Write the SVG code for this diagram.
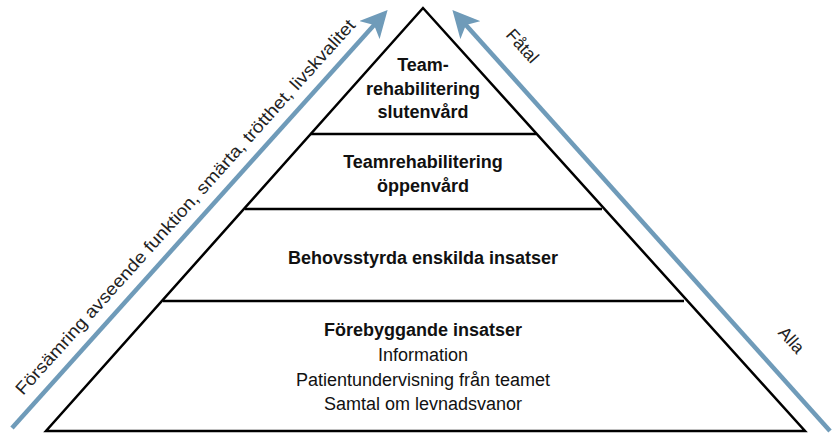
<svg xmlns="http://www.w3.org/2000/svg" width="833" height="433" viewBox="0 0 833 433">
<defs>
<marker id="ah" viewBox="0 0 10 10" refX="8" refY="5" markerWidth="6" markerHeight="6" markerUnits="strokeWidth" orient="auto">
<path d="M0,0 L10,5 L0,10 L2.5,5 Z" fill="#6f9bb9"/>
</marker>
<style>
.pyr{fill:none;stroke:#000;stroke-width:2.5}
.arr{stroke:#6f9bb9;stroke-width:4.5;fill:none}
.b{font-family:"Liberation Sans",Arial,sans-serif;font-weight:bold;font-size:18px;fill:#111;text-anchor:middle}
.r{font-family:"Liberation Sans",Arial,sans-serif;font-weight:normal;font-size:18px;fill:#111;text-anchor:middle}
.s{font-family:"Liberation Sans",Arial,sans-serif;font-weight:normal;font-size:17.5px;fill:#222}
</style>
</defs>
<rect width="833" height="433" fill="#fff"/>
<g id="pyramid">
<path class="pyr" d="M423,8 L46,431 L805,431 Z"/>
</g>
<g id="connectors">
<line class="arr" x1="12" y1="428" x2="384" y2="14" marker-end="url(#ah)"/>
<line class="arr" x1="830" y1="431" x2="456" y2="14" marker-end="url(#ah)"/>
<line class="pyr" x1="311" y1="134" x2="536" y2="134"/>
<line class="pyr" x1="245" y1="209" x2="602" y2="209"/>
<line class="pyr" x1="163" y1="301" x2="684" y2="301"/>
</g>
<g id="level1">
<text class="b" x="423" y="71">Team-</text>
<text class="b" x="423" y="95">rehabilitering</text>
<text class="b" x="423" y="118">slutenvård</text>
</g>
<g id="level2">
<text class="b" x="423" y="168">Teamrehabilitering</text>
<text class="b" x="423" y="192">öppenvård</text>
</g>
<g id="level3">
<text class="b" x="423" y="264">Behovsstyrda enskilda insatser</text>
</g>
<g id="level4">
<text class="b" x="423" y="336">Förebyggande insatser</text>
<text class="r" x="423" y="361">Information</text>
<text class="r" x="423" y="386">Patientundervisning från teamet</text>
<text class="r" x="423" y="410">Samtal om levnadsvanor</text>
</g>
<g id="labels">
<text class="s" transform="translate(23,396) rotate(-48)" textLength="498" lengthAdjust="spacingAndGlyphs">Försämring avseende funktion, smärta, trötthet, livskvalitet</text>
<text class="s" text-anchor="middle" transform="translate(518,50) rotate(48)">Fåtal</text>
<text class="s" text-anchor="middle" transform="translate(787,344) rotate(48)">Alla</text>
</g>
</svg>
